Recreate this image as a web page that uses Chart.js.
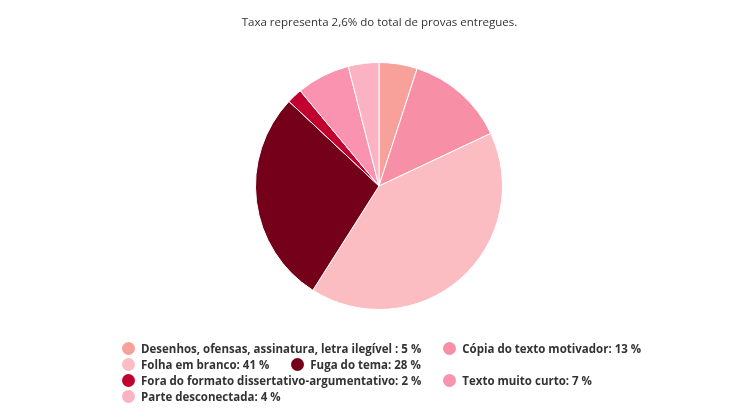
<!DOCTYPE html>
<html>
<head>
<meta charset="utf-8">
<script src="https://cdn.jsdelivr.net/npm/chart.js"></script>
<style>
  html, body { margin: 0; padding: 0; background: #fff; }
  #wrap { position: relative; width: 750px; height: 420px; overflow: hidden; font-family: "Open Sans", sans-serif; }
  #chart { position: absolute; left: 0; top: 0; }
  #subtitle { position: absolute; left: 0; top: 14px; width: 759px; text-align: center; font-size: 11.5px; color: #333; }
  #legend { position: absolute; left: 122px; top: 340px; width: 525px; display: flex; flex-wrap: wrap; column-gap: 22px; }
  .item { display: flex; align-items: center; height: 16px; font-size: 11.5px; font-weight: bold; color: #333; white-space: nowrap; }
  .dot { width: 13px; height: 13px; border-radius: 50%; margin-right: 6px; }
</style>
</head>
<body>
<div id="wrap">
  <canvas id="chart" width="750" height="420"></canvas>
  <div id="subtitle">Taxa representa 2,6% do total de provas entregues.</div>
  <div id="legend"></div>
</div>
<script>
const labels = [
  'Desenhos, ofensas, assinatura, letra ilegível ',
  'Cópia do texto motivador',
  'Folha em branco',
  'Fuga do tema',
  'Fora do formato dissertativo-argumentativo',
  'Texto muito curto',
  'Parte desconectada'
];
const values = [5, 13, 41, 28, 2, 7, 4];
const colors = ['#f8a09a', '#f78fa6', '#fbbdc2', '#75001a', '#c2002f', '#f993b0', '#fbb3c3'];

new Chart(document.getElementById('chart'), {
  type: 'pie',
  data: {
    labels,
    datasets: [{ data: values, backgroundColor: colors, borderColor: '#fff', borderWidth: 1, hoverOffset: 0 }]
  },
  options: {
    responsive: false,
    animation: false,
    layout: { padding: { top: 62, bottom: 110, left: 255, right: 247 } },
    plugins: { legend: { display: false }, tooltip: { enabled: false } }
  }
});

// legend laid out like the original: rows flow left to right
const legend = document.getElementById('legend');
labels.forEach((l, i) => {
  const item = document.createElement('div');
  item.className = 'item';
  item.innerHTML = '<span class="dot" style="background:' + colors[i] + '"></span>' + l + ': ' + values[i] + ' %';
  legend.appendChild(item);
});
</script>
</body>
</html>
